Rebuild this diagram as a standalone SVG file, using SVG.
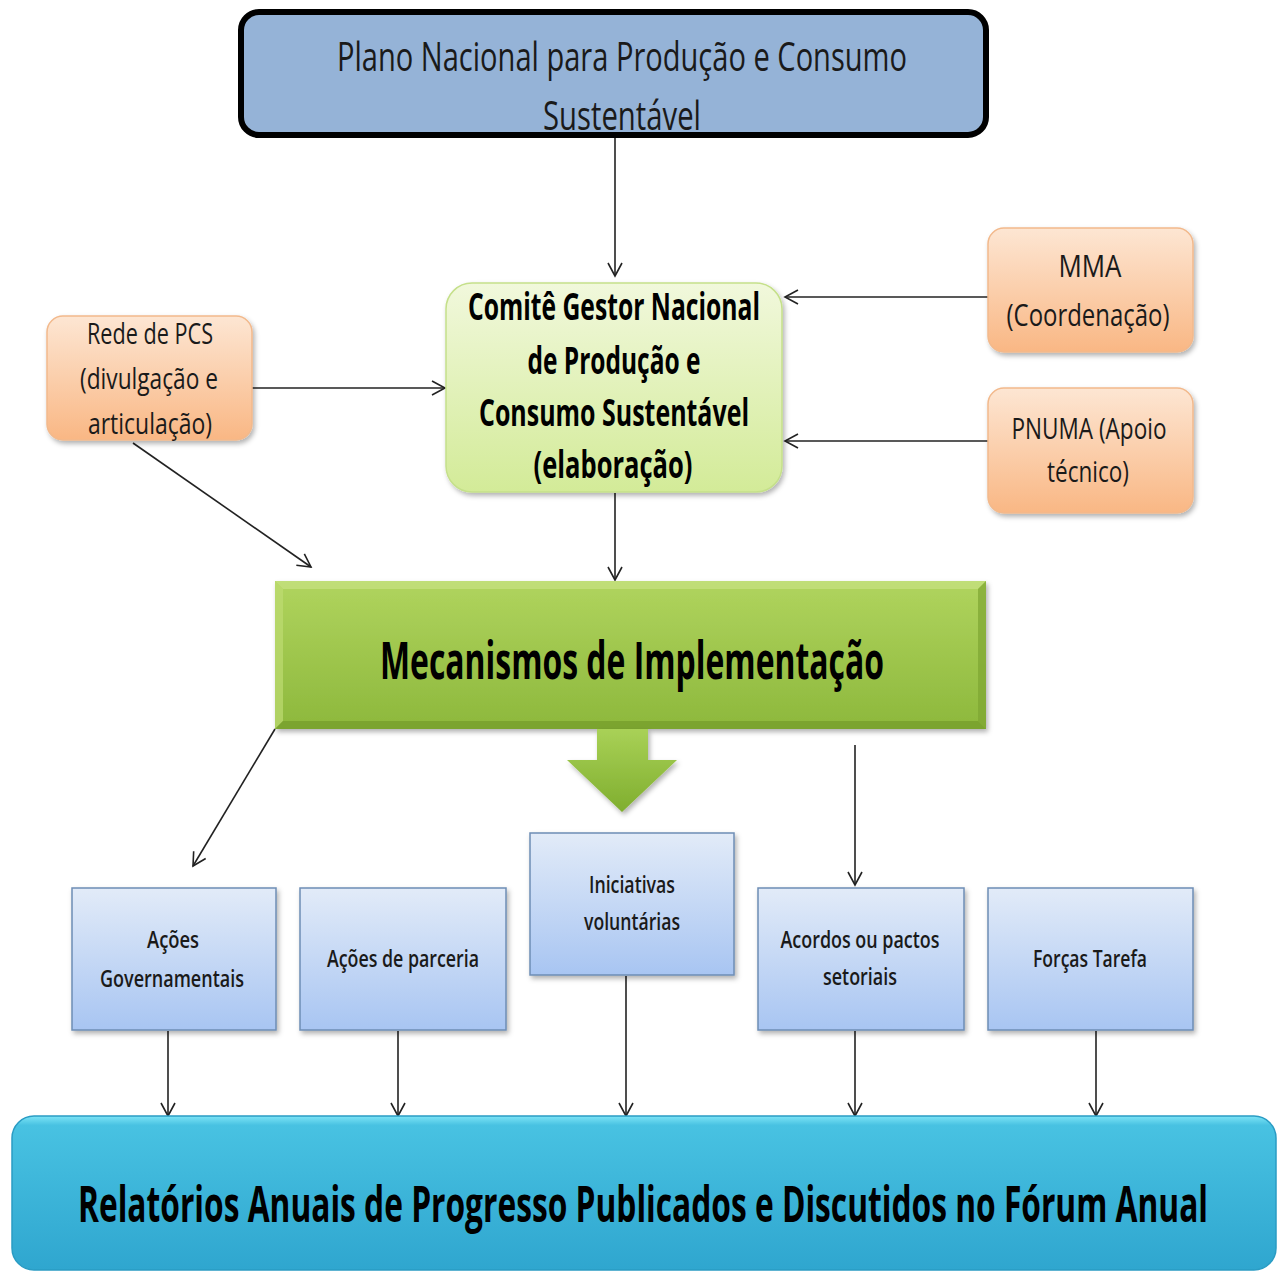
<svg xmlns="http://www.w3.org/2000/svg" width="1286" height="1274" viewBox="0 0 1286 1274">
<style>
text{font-family:"Open Sans","Liberation Sans",sans-serif;fill:#1a1a1a;text-anchor:middle}
.b{font-weight:bold;fill:#000}
.s{font-weight:600;fill:#1a1a1a}
.c{stroke:#222;stroke-width:1.6;fill:none;marker-end:url(#ah)}
.org{fill:url(#gOrg);stroke:#F2B98C;stroke-width:1.5;filter:url(#sh)}
.blu{fill:url(#gBlu);stroke:#6E8DB5;stroke-width:1.5;filter:url(#sh)}
</style>
<defs>
<marker id="ah" markerWidth="20" markerHeight="20" refX="14" refY="8" orient="auto" markerUnits="userSpaceOnUse">
<path d="M1,1 L14,8 L1,15" fill="none" stroke="#222" stroke-width="1.6"/>
</marker>
<linearGradient id="gOrg" x1="0" y1="0" x2="0" y2="1"><stop offset="0" stop-color="#FDE6D3"/><stop offset="1" stop-color="#F9B784"/></linearGradient>
<linearGradient id="gGrn" x1="0" y1="0" x2="0" y2="1"><stop offset="0" stop-color="#F1F8DC"/><stop offset="1" stop-color="#D3EB98"/></linearGradient>
<linearGradient id="gBlu" x1="0" y1="0" x2="0" y2="1"><stop offset="0" stop-color="#E2EBF8"/><stop offset="1" stop-color="#A8C5F2"/></linearGradient>
<linearGradient id="gMec" x1="0" y1="0" x2="0" y2="1"><stop offset="0" stop-color="#B0D45E"/><stop offset="1" stop-color="#8DB83C"/></linearGradient>
<linearGradient id="gArr" x1="0" y1="0" x2="0" y2="1"><stop offset="0" stop-color="#A9D157"/><stop offset="1" stop-color="#7FAE2E"/></linearGradient>
<linearGradient id="gCy" x1="0" y1="0" x2="0" y2="1"><stop offset="0" stop-color="#7DE4F6"/><stop offset="0.06" stop-color="#48C2E2"/><stop offset="1" stop-color="#2FA6CF"/></linearGradient>
<filter id="sh" x="-10%" y="-10%" width="125%" height="130%"><feDropShadow dx="2" dy="3" stdDeviation="2.5" flood-color="#000" flood-opacity="0.3"/></filter>
</defs>

<g id="connectors">
<line class="c" x1="615" y1="137" x2="615" y2="276"/>
<line class="c" x1="252" y1="388" x2="445" y2="388"/>
<line class="c" x1="133" y1="443" x2="311" y2="567"/>
<line class="c" x1="988" y1="297" x2="785" y2="297"/>
<line class="c" x1="988" y1="441" x2="785" y2="441"/>
<line class="c" x1="615" y1="493" x2="615" y2="580"/>
<line class="c" x1="275" y1="729" x2="193" y2="866"/>
<line class="c" x1="855" y1="745" x2="855" y2="885"/>
<line class="c" x1="168" y1="1031" x2="168" y2="1116"/>
<line class="c" x1="398" y1="1031" x2="398" y2="1116"/>
<line class="c" x1="626" y1="976" x2="626" y2="1116"/>
<line class="c" x1="855" y1="1031" x2="855" y2="1116"/>
<line class="c" x1="1096" y1="1031" x2="1096" y2="1116"/>
</g>

<g id="plano">
<rect x="241" y="12" width="745" height="123" rx="18" fill="#95B3D7" stroke="#000" stroke-width="6"/>
<text x="622" y="71" font-size="41" textLength="570" lengthAdjust="spacingAndGlyphs">Plano Nacional para Produção e Consumo</text>
<text x="622" y="130" font-size="41" textLength="158" lengthAdjust="spacingAndGlyphs">Sustentável</text>
</g>

<g id="comite">
<rect x="446" y="283" width="336" height="209" rx="26" fill="url(#gGrn)" stroke="#C5E08A" stroke-width="1.5" filter="url(#sh)"/>
<text class="b" x="614" y="320" font-size="38" textLength="292" lengthAdjust="spacingAndGlyphs">Comitê Gestor Nacional</text>
<text class="b" x="614" y="374" font-size="38" textLength="173" lengthAdjust="spacingAndGlyphs">de Produção e</text>
<text class="b" x="614" y="426" font-size="38" textLength="270" lengthAdjust="spacingAndGlyphs">Consumo Sustentável</text>
<text class="b" x="613" y="478" font-size="38" textLength="159" lengthAdjust="spacingAndGlyphs">(elaboração)</text>
</g>

<g id="rede">
<rect class="org" x="47" y="316" width="205" height="124" rx="16"/>
<text x="150" y="344" font-size="30" textLength="126" lengthAdjust="spacingAndGlyphs">Rede de PCS</text>
<text x="149" y="389" font-size="30" textLength="138" lengthAdjust="spacingAndGlyphs">(divulgação e</text>
<text x="150" y="434" font-size="30" textLength="124" lengthAdjust="spacingAndGlyphs">articulação)</text>
</g>

<g id="mma">
<rect class="org" x="988" y="228" width="205" height="124" rx="16"/>
<text x="1090" y="277" font-size="31" textLength="63" lengthAdjust="spacingAndGlyphs">MMA</text>
<text x="1088" y="326" font-size="31" textLength="163" lengthAdjust="spacingAndGlyphs">(Coordenação)</text>
</g>

<g id="pnuma">
<rect class="org" x="988" y="388" width="205" height="125" rx="16"/>
<text x="1089" y="439" font-size="30" textLength="155" lengthAdjust="spacingAndGlyphs">PNUMA (Apoio</text>
<text x="1088" y="482" font-size="30" textLength="82" lengthAdjust="spacingAndGlyphs">técnico)</text>
</g>

<g id="mecanismos">
<rect x="275" y="581" width="711" height="148" fill="url(#gMec)" filter="url(#sh)"/>
<polygon points="275,581 986,581 978,589 283,589" fill="#C4E07E" opacity="0.8"/>
<polygon points="275,581 283,589 283,721 275,729" fill="#BEDC72" opacity="0.7"/>
<polygon points="986,581 978,589 978,721 986,729" fill="#7DA532" opacity="0.7"/>
<polygon points="275,729 283,721 978,721 986,729" fill="#779F2C" opacity="0.8"/>
<text class="b" x="632" y="679" font-size="52" textLength="504" lengthAdjust="spacingAndGlyphs">Mecanismos de Implementação</text>
<polygon points="597,729 648,729 648,760 677,760 622,812 567,760 597,760" fill="url(#gArr)" filter="url(#sh)"/>
</g>

<g id="acoes-gov">
<rect class="blu" x="72" y="888" width="204" height="142"/>
<text class="s" x="173" y="948" font-size="24" textLength="52" lengthAdjust="spacingAndGlyphs">Ações</text>
<text class="s" x="172" y="987" font-size="24" textLength="144" lengthAdjust="spacingAndGlyphs">Governamentais</text>
</g>

<g id="acoes-parceria">
<rect class="blu" x="300" y="888" width="206" height="142"/>
<text class="s" x="403" y="967" font-size="24" textLength="152" lengthAdjust="spacingAndGlyphs">Ações de parceria</text>
</g>

<g id="iniciativas">
<rect class="blu" x="530" y="833" width="204" height="142"/>
<text class="s" x="632" y="893" font-size="24" textLength="86" lengthAdjust="spacingAndGlyphs">Iniciativas</text>
<text class="s" x="632" y="930" font-size="24" textLength="96" lengthAdjust="spacingAndGlyphs">voluntárias</text>
</g>

<g id="acordos">
<rect class="blu" x="758" y="888" width="206" height="142"/>
<text class="s" x="860" y="948" font-size="24" textLength="159" lengthAdjust="spacingAndGlyphs">Acordos ou pactos</text>
<text class="s" x="860" y="985" font-size="24" textLength="74" lengthAdjust="spacingAndGlyphs">setoriais</text>
</g>

<g id="forcas">
<rect class="blu" x="988" y="888" width="205" height="142"/>
<text class="s" x="1090" y="967" font-size="24" textLength="114" lengthAdjust="spacingAndGlyphs">Forças Tarefa</text>
</g>

<g id="relatorios">
<rect x="12" y="1116" width="1264" height="154" rx="22" fill="url(#gCy)" stroke="#2A9CC4" stroke-width="1.5"/>
<text class="b" transform="translate(643,1222) scale(1,1.8)" x="0" y="0" font-size="28" textLength="1130" lengthAdjust="spacingAndGlyphs">Relatórios Anuais de Progresso Publicados e Discutidos no Fórum Anual</text>
</g>
</svg>
